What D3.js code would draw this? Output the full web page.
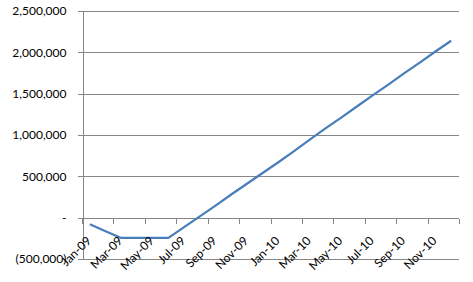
<script src="https://cdnjs.cloudflare.com/ajax/libs/d3/7.8.5/d3.min.js"></script>
<style>
    body { margin: 0; background: #fff; }
    svg text { font-family: Lato, 'Liberation Sans', sans-serif; font-size: 12px; fill: #000; }
    .grid line { stroke: #868686; stroke-width: 1; shape-rendering: crispEdges; }
    .axis .domain, .axis line { stroke: #868686; shape-rendering: crispEdges; }
</style>
<svg width="473" height="282"></svg>
<script>
    // months on the category axis
    var months = ["Jan-09", "Feb-09", "Mar-09", "Apr-09", "May-09", "Jun-09",
        "Jul-09", "Aug-09", "Sep-09", "Oct-09", "Nov-09", "Dec-09",
        "Jan-10", "Feb-10", "Mar-10", "Apr-10", "May-10", "Jun-10",
        "Jul-10", "Aug-10", "Sep-10", "Oct-10", "Nov-10", "Dec-10"];
    // cumulative balance
    var balance = [-80000, -165000, -245000, -245000, -245000, -245000,
        -115000, 15000, 145000, 280000, 410000, 540000,
        670000, 805000, 945000, 1080000, 1210000, 1345000,
        1480000, 1610000, 1745000, 1875000, 2010000, 2140000];
    var yTicks = [-500000, 0, 500000, 1000000, 1500000, 2000000, 2500000];
    var yTickLabels = ["(500,000)", "-", "500,000", "1,000,000", "1,500,000", "2,000,000", "2,500,000"];

    var svg = d3.select("svg"),
        margin = {top: 11, right: 14, bottom: 23, left: 82},
        width = +svg.attr("width") - margin.left - margin.right,
        height = +svg.attr("height") - margin.top - margin.bottom;

    var x = d3.scaleBand()
        .domain(months)
        .range([margin.left, margin.left + width])
        .padding(0);

    var y = d3.scaleLinear()
        .domain([yTicks[0], yTicks[yTicks.length - 1]])
        .range([margin.top + height, margin.top]);

    // horizontal gridlines
    svg.append("g")
        .attr("class", "grid")
        .selectAll("line")
        .data(yTicks)
        .enter().append("line")
        .attr("x1", margin.left)
        .attr("x2", margin.left + width)
        .attr("y1", function(d) { return Math.round(y(d)) + 0.5; })
        .attr("y2", function(d) { return Math.round(y(d)) + 0.5; });

    // value axis
    svg.append("g")
        .attr("class", "axis")
        .attr("transform", "translate(" + (margin.left + 0.5) + ",0)")
        .call(d3.axisLeft(y)
            .tickValues(yTicks)
            .tickSize(5)
            .tickSizeOuter(0)
            .tickPadding(11)
            .tickFormat(function(d, i) { return yTickLabels[i]; }))
        .call(function(g) { g.selectAll("text").attr("font-family", null).attr("font-size", null).attr("fill", null); });

    // category axis sitting on zero
    var y0 = Math.round(y(0)) + 0.5;
    var tickPos = months.filter(function(d, i) { return i % 2 === 0; })
        .map(function(d) { return x(d); })
        .concat([x.range()[1]]);

    var xAxis = svg.append("g").attr("class", "axis");
    xAxis.append("line")
        .attr("x1", margin.left)
        .attr("x2", margin.left + width)
        .attr("y1", y0)
        .attr("y2", y0);
    xAxis.selectAll(".tk")
        .data(tickPos)
        .enter().append("line")
        .attr("class", "tk")
        .attr("x1", function(d) { return Math.round(d) + 0.5; })
        .attr("x2", function(d) { return Math.round(d) + 0.5; })
        .attr("y1", y0)
        .attr("y2", y0 + 5);

    // the line
    var line = d3.line()
        .x(function(d, i) { return x(months[i]) + x.bandwidth() / 2; })
        .y(function(d) { return y(d); });

    svg.append("path")
        .datum(balance)
        .attr("fill", "none")
        .attr("stroke", "#4a7ebb")
        .attr("stroke-width", 2.25)
        .attr("stroke-linejoin", "round")
        .attr("d", line);

    // rotated month labels, every other month
    svg.append("g")
        .selectAll("text")
        .data(months.filter(function(d, i) { return i % 2 === 0; }))
        .enter().append("text")
        .attr("text-anchor", "end")
        .attr("transform", function(d) {
            return "translate(" + (x(d) + x.bandwidth() / 2 + 2) + "," + (y0 + 23) + ") rotate(-45)";
        })
        .text(function(d) { return d; });
</script>
